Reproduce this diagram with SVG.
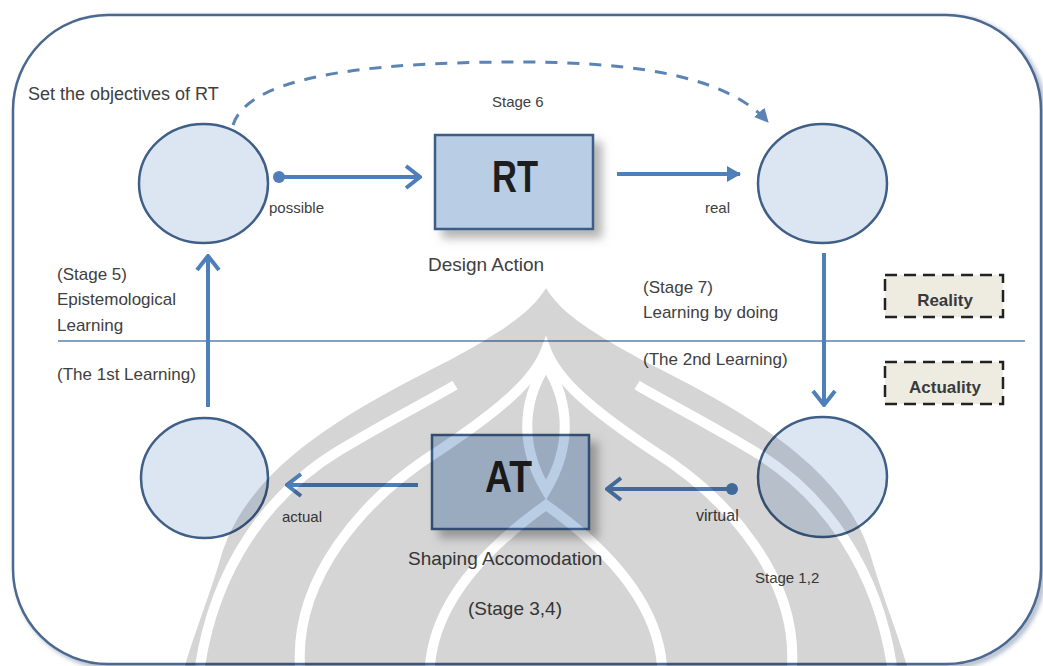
<svg xmlns="http://www.w3.org/2000/svg" width="1043" height="666" viewBox="0 0 1043 666">
  <style>
    .lbl { font-family: "Liberation Sans", Arial, sans-serif; fill: #404040; }
    .big { font-family: "Liberation Sans", Arial, sans-serif; font-weight: bold; fill: #1e1e1e; font-size: 44px; }
    .tag { font-family: "Liberation Sans", Arial, sans-serif; font-weight: bold; fill: #3a3a3a; font-size: 17px; }
    .circ { fill: #dce6f2; stroke: #3f5f87; stroke-width: 2.5; }
    .box { fill: #b9cde5; stroke: #3c5d89; stroke-width: 2.5; }
    .tagbox { fill: #eeece1; stroke: #222; stroke-width: 2.5; stroke-dasharray: 12 7; }
    .conn { fill: none; stroke: #4f7fb8; stroke-width: 4; }
    .dot { fill: #4f7fb8; }
  </style>
  <defs>
    <marker id="chev" viewBox="0 0 18 26" refX="16" refY="13" markerWidth="18" markerHeight="26" markerUnits="userSpaceOnUse" orient="auto">
      <path d="M2,2 L16,13 L2,24" fill="none" stroke="#4f7fb8" stroke-width="4"/>
    </marker>
    <marker id="tri" viewBox="0 0 14 16" refX="13" refY="8" markerWidth="14" markerHeight="16" markerUnits="userSpaceOnUse" orient="auto">
      <path d="M0,0 L14,8 L0,16 Z" fill="#4f7fb8"/>
    </marker>
    <marker id="tris" viewBox="0 0 14 14" refX="13" refY="7" markerWidth="14" markerHeight="14" markerUnits="userSpaceOnUse" orient="auto">
      <path d="M0,0 L14,7 L0,14 Z" fill="#5b84b5"/>
    </marker>
    <filter id="shadow" x="-20%" y="-20%" width="150%" height="150%">
      <feDropShadow dx="8" dy="8" stdDeviation="5" flood-color="#777" flood-opacity="0.55"/>
    </filter>
    <filter id="blur3" x="-5%" y="-5%" width="110%" height="110%">
      <feGaussianBlur stdDeviation="2.5"/>
    </filter>
    <mask id="wm" maskUnits="userSpaceOnUse" x="0" y="0" width="1043" height="666">
      <path d="M546,288 C530,315 495,335 450,360 C340,415 245,470 220,560 C208,600 192,640 185,666 L907,666 C900,640 884,600 872,560 C847,470 752,415 642,360 C597,335 562,315 546,288 Z" fill="#fff"/>
      <g fill="none" stroke="#000" stroke-width="10">
        <path d="M200,666 C215,570 265,495 340,450 C390,420 430,400 455,385"/>
        <path d="M892,666 C877,570 827,495 752,450 C702,420 662,400 637,385"/>
        <path d="M300,666 C295,580 360,500 440,450 C500,410 535,380 546,350 C557,380 592,410 652,450 C732,500 797,580 792,666"/>
        <path d="M430,666 C435,600 490,545 546,505 C602,545 657,600 662,666"/>
        <path d="M546,365 C520,405 522,450 546,490 C570,450 572,405 546,365 Z"/>
      </g>
    </mask>
  </defs>

  <rect x="0" y="0" width="1043" height="666" fill="#fff"/>

  <g id="frame">
    <rect x="17" y="18" width="1026" height="648" rx="95" fill="none" stroke="#8d9db5" stroke-width="4" filter="url(#blur3)"/>
    <rect x="13" y="15" width="1028" height="649" rx="95" fill="#fff" stroke="#4a6890" stroke-width="2.5"/>
    <line x1="58" y1="341" x2="1025" y2="341" stroke="#5b82b0" stroke-width="1.5"/>
  </g>

  <g id="connectors">
    <path class="conn" d="M279,177 L420,177" marker-end="url(#chev)"/>
    <circle class="dot" cx="279" cy="177" r="6"/>
    <path class="conn" d="M617,174 L740,174" marker-end="url(#tri)"/>
    <path class="conn" d="M824,253 L824,405" marker-end="url(#chev)"/>
    <path class="conn" d="M208,407 L208,256" marker-end="url(#chev)"/>
    <path class="conn" d="M418,485 L287,485" marker-end="url(#chev)"/>
    <path class="conn" d="M732,489 L607,489" marker-end="url(#chev)"/>
    <circle class="dot" cx="732" cy="489" r="6"/>
    <path d="M233,125 C250,70 400,62 520,62 C650,62 730,80 768,122" fill="none" stroke="#5b84b5" stroke-width="3" stroke-dasharray="12 10" marker-end="url(#tris)"/>
  </g>

  <g id="node-possible">
    <ellipse class="circ" cx="203.5" cy="183.5" rx="64.5" ry="59.5"/>
  </g>
  <g id="node-real">
    <ellipse class="circ" cx="822.5" cy="183.5" rx="64.5" ry="59.5"/>
  </g>
  <g id="node-actual">
    <ellipse class="circ" cx="204.5" cy="478" rx="63.5" ry="60"/>
  </g>
  <g id="node-virtual">
    <ellipse class="circ" cx="822.5" cy="477" rx="64.5" ry="60"/>
  </g>
  <g id="node-RT">
    <rect class="box" x="435" y="135" width="158" height="94" filter="url(#shadow)"/>
    <text class="big" x="515" y="192" text-anchor="middle" textLength="46" lengthAdjust="spacingAndGlyphs">RT</text>
  </g>
  <g id="node-AT">
    <rect class="box" x="432" y="435" width="157" height="94" filter="url(#shadow)"/>
    <text class="big" x="508.5" y="492" text-anchor="middle" textLength="47" lengthAdjust="spacingAndGlyphs">AT</text>
  </g>
  <g id="node-reality">
    <rect class="tagbox" x="885" y="275" width="118" height="42"/>
    <text class="tag" x="945" y="306" text-anchor="middle">Reality</text>
  </g>
  <g id="node-actuality">
    <rect class="tagbox" x="885" y="362" width="118" height="42"/>
    <text class="tag" x="945" y="393" text-anchor="middle">Actuality</text>
  </g>

  <g id="labels">
    <text class="lbl" x="28" y="100" font-size="18">Set the objectives of RT</text>
    <text class="lbl" x="492" y="107" font-size="15">Stage 6</text>
    <text class="lbl" x="269" y="213" font-size="15">possible</text>
    <text class="lbl" x="705" y="213" font-size="15">real</text>
    <text class="lbl" x="428" y="271" font-size="19">Design Action</text>
    <text class="lbl" x="57" y="280" font-size="17">(Stage 5)</text>
    <text class="lbl" x="57" y="305" font-size="17">Epistemological</text>
    <text class="lbl" x="57" y="331" font-size="17">Learning</text>
    <text class="lbl" x="57" y="380" font-size="17">(The 1st Learning)</text>
    <text class="lbl" x="643" y="293" font-size="17">(Stage 7)</text>
    <text class="lbl" x="643" y="318" font-size="17">Learning by doing</text>
    <text class="lbl" x="643" y="365" font-size="17">(The 2nd Learning)</text>
    <text class="lbl" x="282" y="522" font-size="15">actual</text>
    <text class="lbl" x="696" y="521" font-size="16">virtual</text>
    <text class="lbl" x="408" y="565" font-size="19">Shaping  Accomodation</text>
    <text class="lbl" x="468" y="615" font-size="19">(Stage 3,4)</text>
    <text class="lbl" x="755" y="583" font-size="15">Stage 1,2</text>
  </g>

  <g id="watermark">
    <rect x="0" y="0" width="1043" height="666" fill="#000" opacity="0.16" mask="url(#wm)"/>
  </g>
</svg>
